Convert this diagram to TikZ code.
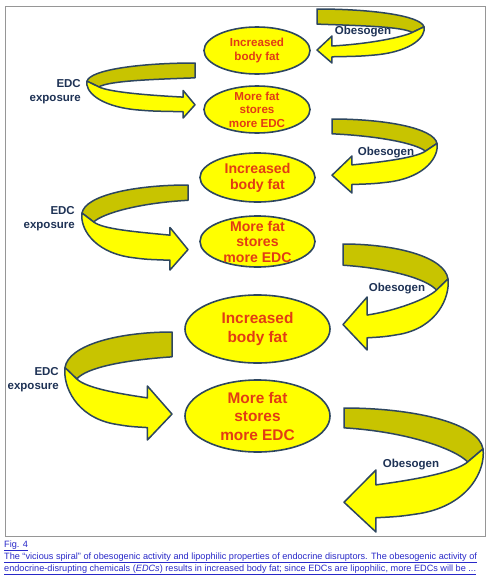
\documentclass[tikz,border=0pt]{standalone}
\usepackage{fontspec}
\setmainfont{Liberation Sans}
\usetikzlibrary{shapes.geometric}
\definecolor{ylw}{RGB}{255,255,0}
\definecolor{olv}{RGB}{200,196,0}
\definecolor{edgec}{RGB}{45,70,95}
\definecolor{txtred}{RGB}{226,60,20}
\definecolor{lblc}{RGB}{30,50,85}
\definecolor{linkc}{RGB}{40,40,200}
\definecolor{framec}{RGB}{150,150,150}
\tikzset{
  ribbonback/.style={fill=olv,draw=edgec,line width=1.5pt,line join=round},
  ribbonfront/.style={fill=ylw,draw=edgec,line width=1.5pt,line join=round},
  blob/.style={ellipse,fill=ylw,draw=edgec,line width=1.6pt,inner sep=0pt},
  blobtxt/.style={text=txtred,align=center,inner sep=0pt,font=\bfseries},
  lbltxt/.style={text=lblc,inner sep=0pt,font=\bfseries\fontsize{11.5}{14}\selectfont},
  capt/.style={text=linkc,inner sep=0pt,font=\fontsize{9.15}{10}\selectfont},
}
\newcommand{\ribbonarrow}[8]{%
\begin{scope}[shift={(#2,#3)},xscale=#4,yscale=#5]
\coordinate (#1) at (0,0);
\filldraw[ribbonback] (0,0) .. controls (0.5,0) and (0.97,0.12) .. (1,0.33) -- (0.89,0.435) .. controls (0.8,0.33) and (0.45,{#6+0.03}) .. (0,#6) -- cycle;
\filldraw[ribbonfront] (0.89,0.435) -- (1,0.33) .. controls (1.02,0.5) and (0.9,0.78) .. (0.55,0.85) .. controls (0.4,0.875) .. (#7,0.885) -- (#7,1) -- (0,0.76) -- (#7,0.5) -- (#7,#8) .. controls (0.5,{#8-0.04}) and (0.8,0.52) .. (0.89,0.435) -- cycle;
\end{scope}}
\begin{document}
\begin{tikzpicture}[x=1pt,y=-1pt]
\useasboundingbox[fill=white] (0,0) rectangle (492,579);
\draw[framec,line width=1pt] (5,6) rectangle (485,536);
% ribbon arrows
\ribbonarrow{ob1}{317}{9}{107}{54}{0.28}{0.14}{0.685}
\ribbonarrow{ob2}{332}{119}{105}{74}{0.2}{0.19}{0.62}
\ribbonarrow{ob3}{343}{244}{105}{106}{0.2}{0.23}{0.67}
\ribbonarrow{ob4}{344}{408}{139}{124}{0.16}{0.23}{0.62}
\ribbonarrow{ed1}{195}{63}{-108}{55}{0.27}{0.11}{0.62}
\ribbonarrow{ed2}{188}{185}{-106}{85}{0.18}{0.17}{0.59}
\ribbonarrow{ed3}{172}{332}{-107}{108}{0.23}{0.23}{0.61}
% ellipses
\node[blob,minimum width=106pt,minimum height=47pt] (e1) at (257,50.5) {};
\node[blob,minimum width=106pt,minimum height=47pt] (e2) at (257,109.5) {};
\node[blob,minimum width=115pt,minimum height=49pt] (e3) at (257.5,177.5) {};
\node[blob,minimum width=115pt,minimum height=51pt] (e4) at (257.5,241.5) {};
\node[blob,minimum width=145pt,minimum height=68pt] (e5) at (257.5,329) {};
\node[blob,minimum width=145pt,minimum height=72pt] (e6) at (257.5,416) {};
\node[blobtxt,font=\bfseries\fontsize{11.6}{14}\selectfont] (t1) at (e1) {Increased\\body fat};
\node[blobtxt,font=\bfseries\fontsize{11.6}{13.5}\selectfont] (t2) at (e2) {More fat\\stores\\more EDC};
\node[blobtxt,font=\bfseries\fontsize{14.1}{16}\selectfont] (t3) at (e3) {Increased\\body fat};
\node[blobtxt,font=\bfseries\fontsize{14.1}{15.5}\selectfont] (t4) at (e4) {More fat\\stores\\more EDC};
\node[blobtxt,font=\bfseries\fontsize{15.4}{19}\selectfont] (t5) at (e5) {Increased\\body fat};
\node[blobtxt,font=\bfseries\fontsize{15.4}{18.5}\selectfont] (t6) at (e6) {More fat\\stores\\more EDC};
% labels
\node[lbltxt] (o1) at (363,32) {Obesogen};
\node[lbltxt] (o2) at (386,153) {Obesogen};
\node[lbltxt] (o3) at (397,289) {Obesogen};
\node[lbltxt] (o4) at (411,465) {Obesogen};
\node[lbltxt,align=right,anchor=east] (x1) at (81,92) {EDC\\exposure};
\node[lbltxt,align=right,anchor=east] (x2) at (75,219) {EDC\\exposure};
\node[lbltxt,align=right,anchor=east] (x3) at (59,380) {EDC\\exposure};
% caption
\node[capt,anchor=base west] (fig) at (4,547) {\underline{Fig. 4}};
\node[capt,anchor=base west] (c1) at (4,559) {\underline{The “vicious spiral” of obesogenic activity and lipophilic properties of endocrine disruptors. The obesogenic activity of}};
\node[capt,anchor=base west] (c2) at (4,571) {\underline{endocrine-disrupting chemicals (\textit{EDCs}) results in increased body fat; since EDCs are lipophilic, more EDCs will be ...}};
\end{tikzpicture}
\end{document}
